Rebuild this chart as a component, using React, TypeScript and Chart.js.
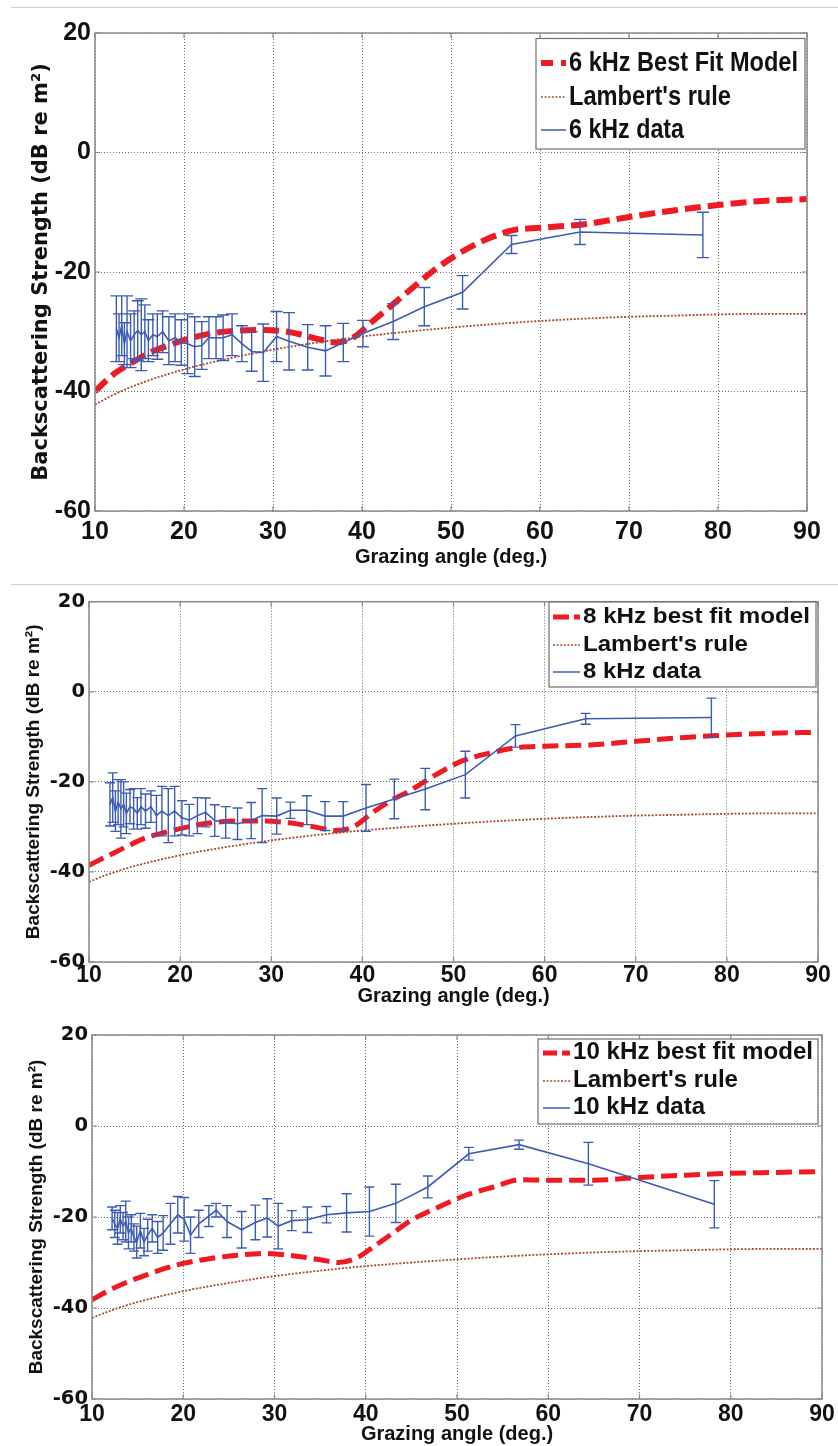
import React, { useEffect, useRef } from "react";
import { Chart, registerables } from "chart.js";

Chart.register(...registerables);

// ---------------- data ----------------
const xTickValues = [10, 20, 30, 40, 50, 60, 70, 80, 90];
const yTickValues = [-60, -40, -20, 0, 20];
const xAxisTitle = "Grazing angle (deg.)";
const yAxisTitle = "Backscattering Strength (dB re m²)";

const legend6kHz = ["6 kHz Best Fit Model", "Lambert's rule", "6 kHz data"];
const legend8kHz = ["8 kHz best fit model", "Lambert's rule", "8 kHz data"];
const legend10kHz = ["10 kHz best fit model", "Lambert's rule", "10 kHz data"];

// best fit model curves
const modelAngles = [10, 12, 14, 16, 18, 20, 23, 26, 29, 32, 35, 37, 39, 41, 43, 45, 48, 51, 54, 57, 60, 65, 70, 75, 80, 85, 90];
const model6kHz = [-40, -37.2, -35.3, -33.6, -32.4, -31.4, -30.3, -29.8, -29.7, -30.1, -31.2, -31.8, -31.0, -28.5, -26.0, -23.5, -19.8, -16.8, -14.5, -13.0, -12.6, -12.0, -10.8, -9.7, -8.8, -8.1, -7.8];
const model8kHz = [-38.5, -36.5, -34.5, -32.6, -31.4, -30.4, -29.2, -28.7, -28.7, -29.1, -30.1, -30.8, -30.0, -27.0, -24.3, -22.2, -18.5, -15.3, -13.6, -12.4, -12.1, -11.8, -11.0, -10.2, -9.6, -9.2, -9.0];
const model10kHz = [-38.2, -36.0, -34.2, -32.7, -31.3, -30.2, -29.1, -28.4, -28.0, -28.5, -29.4, -30.0, -29.0, -26.3, -23.5, -20.7, -17.8, -15.2, -13.4, -11.8, -11.9, -11.9, -11.3, -10.8, -10.4, -10.2, -10.0];

// Lambert's rule curve (same in every panel)
const lambertAngles = [10, 12, 15, 20, 25, 30, 35, 40, 45, 50, 55, 60, 65, 70, 75, 80, 85, 90];
const lambertRule = [-42.2, -40.6, -38.7, -36.3, -34.5, -33.0, -31.8, -30.8, -30.0, -29.3, -28.7, -28.2, -27.8, -27.5, -27.3, -27.1, -27.0, -27.0];

// measured data with error bars
const angles6kHz = [12.4, 12.7, 13.0, 13.3, 13.6, 14.0, 14.4, 14.8, 15.2, 15.6, 16.0, 16.5, 17.0, 17.6, 18.3, 19.0, 19.7, 20.4, 21.2, 22.0, 22.8, 23.6, 24.4, 25.4, 26.5, 27.6, 28.9, 30.4, 31.8, 33.9, 35.9, 37.9, 40.1, 43.5, 47.0, 51.3, 56.8, 64.5, 78.3];
const mean6kHz = [-29.5, -31.0, -29.0, -32.0, -30.0, -31.5, -30.5, -29.8, -30.5, -30.0, -31.5, -30.5, -30.8, -30.0, -31.5, -31.0, -31.8, -32.0, -32.5, -32.3, -31.0, -31.0, -31.0, -30.5, -32.0, -33.3, -33.5, -30.8, -31.6, -32.6, -33.2, -31.8, -30.3, -28.3, -25.8, -23.4, -15.4, -13.3, -13.8];
const err6kHz = [5.5, 4.0, 5.0, 3.5, 6.0, 4.5, 4.0, 5.0, 6.0, 4.5, 3.5, 3.5, 3.8, 3.5, 4.0, 4.0, 3.8, 5.0, 5.0, 4.0, 3.5, 3.5, 3.8, 3.5, 3.0, 3.3, 4.8, 4.2, 4.8, 3.8, 4.2, 3.2, 2.2, 3.0, 3.2, 2.8, 1.5, 2.1, 3.8];

const angles8kHz = [12.3, 12.6, 12.9, 13.2, 13.5, 13.8, 14.1, 14.5, 14.9, 15.3, 15.7, 16.2, 16.8, 17.4, 18.0, 18.7, 19.4, 20.2, 21.0, 21.9, 22.8, 23.8, 25.0, 26.3, 27.8, 29.0, 30.6, 32.1, 33.9, 35.9, 37.9, 40.4, 43.5, 46.9, 51.3, 56.8, 64.5, 78.3];
const mean8kHz = [-25.0, -23.5, -26.5, -24.5, -26.0, -25.0, -27.0, -25.5, -26.0, -27.0, -25.5, -26.5, -25.5, -27.5, -26.5, -27.5, -26.5, -28.0, -28.5, -27.5, -26.8, -28.6, -29.0, -29.3, -28.6, -27.5, -27.6, -26.3, -26.3, -27.6, -27.6, -25.8, -23.8, -21.6, -18.4, -9.8, -6.0, -5.7];
const err8kHz = [4.8, 5.5, 4.5, 5.0, 6.5, 5.0, 4.5, 3.8, 4.5, 3.5, 4.0, 3.8, 3.5, 4.5, 5.5, 6.0, 5.5, 3.8, 3.5, 4.0, 3.2, 3.5, 3.5, 3.5, 4.0, 6.0, 4.0, 1.8, 3.2, 3.2, 3.2, 5.2, 4.4, 4.6, 5.2, 2.5, 1.2, 4.3];

const angles10kHz = [12.2, 12.5, 12.8, 13.1, 13.4, 13.7, 14.0, 14.3, 14.6, 14.9, 15.3, 15.7, 16.1, 16.6, 17.2, 17.8, 18.6, 19.4, 20.1, 20.8, 21.7, 22.8, 23.6, 24.8, 26.4, 27.9, 29.2, 30.4, 31.9, 33.6, 35.7, 37.9, 40.4, 43.3, 46.8, 51.3, 56.8, 64.4, 78.2];
const mean10kHz = [-20.3, -21.5, -22.5, -20.5, -22.0, -21.0, -23.5, -22.5, -24.5, -25.5, -23.0, -25.5, -24.0, -22.5, -24.5, -23.5, -21.5, -19.5, -20.5, -24.0, -21.5, -19.8, -18.5, -21.0, -22.8, -21.2, -20.2, -22.0, -20.8, -20.6, -19.5, -19.1, -18.8, -17.0, -13.4, -6.1, -4.1, -8.3, -17.2];
const err10kHz = [2.5, 3.0, 3.5, 3.0, 3.0, 4.5, 3.5, 3.0, 3.0, 3.5, 3.8, 3.0, 3.5, 3.0, 3.5, 3.8, 4.5, 4.0, 4.8, 4.0, 3.0, 2.3, 1.5, 3.5, 4.0, 3.8, 4.2, 5.0, 2.2, 2.8, 1.8, 4.2, 5.4, 4.2, 2.4, 1.4, 1.0, 4.7, 5.2];

// ---------------- styles ----------------
const RED = "#f01a22";
const BROWN = "#a84a2a";
const BLUE = "#3c5cb4";
const GRID = "rgba(85,85,85,0.85)";
const AXIS = "#8a8a8a";
const TEXT = "#111111";
const ARIAL = '"Liberation Sans", Arial, sans-serif';
const DEJAVU = '"DejaVu Sans", Verdana, sans-serif';

type Panel = {
  canvasTop: number;
  height: number;
  plot: { left: number; right: number; top: number; bottom: number };
  yTickFont: { family: string; size: number };
  xTickFont: { family: string; size: number };
  yTitleFont: { family: string; size: number };
  xTitleSize: number;
  yTitlePad: number;
  xTitlePad: number;
  xTickPad: number;
  lineW: number;
  cap: number;
  legend: {
    box: [number, number, number, number];
    rows: number[];
    sample: [number, number];
    textX: number;
    fontSize: number;
    widths: number[];
    redDash: number[];
  };
  labels: string[];
  model: number[];
  angles: number[];
  mean: number[];
  err: number[];
};

const panels: Panel[] = [
  {
    canvasTop: 10,
    height: 575,
    plot: { left: 95, right: 807, top: 33, bottom: 511 },
    yTickFont: { family: ARIAL, size: 25 },
    xTickFont: { family: ARIAL, size: 25 },
    yTitleFont: { family: DEJAVU, size: 21 },
    xTitleSize: 20,
    yTitlePad: 28.5,
    xTitlePad: 16,
    xTickPad: 6,
    lineW: 6,
    cap: 6,
    legend: {
      box: [536, 38.5, 805, 149],
      rows: [63, 97, 130],
      sample: [541, 566],
      textX: 569,
      fontSize: 28,
      widths: [229, 162, 115],
      redDash: [12, 8],
    },
    labels: legend6kHz,
    model: model6kHz,
    angles: angles6kHz,
    mean: mean6kHz,
    err: err6kHz,
  },
  {
    canvasTop: 586,
    height: 426,
    plot: { left: 89, right: 818, top: 600, bottom: 962 },
    yTickFont: { family: DEJAVU, size: 19.5 },
    xTickFont: { family: ARIAL, size: 23 },
    yTitleFont: { family: ARIAL, size: 19 },
    xTitleSize: 20,
    yTitlePad: 22.6,
    xTitlePad: 3.3,
    xTickPad: 0,
    lineW: 5,
    cap: 5,
    legend: {
      box: [549, 602, 816, 687],
      rows: [617, 645, 672],
      sample: [553, 580],
      textX: 583,
      fontSize: 22,
      widths: [227, 165, 118],
      redDash: [16, 5],
    },
    labels: legend8kHz,
    model: model8kHz,
    angles: angles8kHz,
    mean: mean8kHz,
    err: err8kHz,
  },
  {
    canvasTop: 1012,
    height: 434,
    plot: { left: 92, right: 822, top: 1035, bottom: 1399 },
    yTickFont: { family: DEJAVU, size: 19.5 },
    xTickFont: { family: ARIAL, size: 23 },
    yTitleFont: { family: ARIAL, size: 19 },
    xTitleSize: 20,
    yTitlePad: 25,
    xTitlePad: 0,
    xTickPad: 2,
    lineW: 5,
    cap: 5,
    legend: {
      box: [538, 1039, 818, 1124],
      rows: [1053, 1081, 1108],
      sample: [543, 570],
      textX: 573,
      fontSize: 23,
      widths: [240, 165, 132],
      redDash: [14, 5],
    },
    labels: legend10kHz,
    model: model10kHz,
    angles: angles10kHz,
    mean: mean10kHz,
    err: err10kHz,
  },
];

function fitText(ctx: CanvasRenderingContext2D, text: string, x: number, y: number, font: string, width: number) {
  ctx.save();
  ctx.font = font;
  ctx.textBaseline = "middle";
  ctx.textAlign = "left";
  ctx.fillStyle = TEXT;
  const w = ctx.measureText(text).width || 1;
  ctx.translate(x, y);
  ctx.scale(width / w, 1);
  ctx.fillText(text, 0, 0);
  ctx.restore();
}

function PanelChart({ cfg }: { cfg: Panel }) {
  const ref = useRef<HTMLCanvasElement | null>(null);

  useEffect(() => {
    const canvas = ref.current;
    if (!canvas) return;
    const off = cfg.canvasTop;
    const plotBottomInCanvas = cfg.plot.bottom - off;

    const decor = {
      id: "matlabDecor",
      afterDatasetsDraw(chart: any) {
        const ctx: CanvasRenderingContext2D = chart.ctx;
        const xs = chart.scales.x;
        const ys = chart.scales.y;
        ctx.save();
        ctx.strokeStyle = BLUE;
        ctx.lineWidth = 1.4;
        ctx.setLineDash([]);
        ctx.beginPath();
        cfg.angles.forEach((a, i) => {
          const px = xs.getPixelForValue(a);
          const t = ys.getPixelForValue(cfg.mean[i] + cfg.err[i]);
          const b = ys.getPixelForValue(cfg.mean[i] - cfg.err[i]);
          ctx.moveTo(px, t);
          ctx.lineTo(px, b);
          ctx.moveTo(px - cfg.cap, t);
          ctx.lineTo(px + cfg.cap, t);
          ctx.moveTo(px - cfg.cap, b);
          ctx.lineTo(px + cfg.cap, b);
        });
        ctx.stroke();
        ctx.restore();
      },
      afterDraw(chart: any) {
        const ctx: CanvasRenderingContext2D = chart.ctx;
        const { left, right, top, bottom } = chart.chartArea;
        const xs = chart.scales.x;
        const ys = chart.scales.y;
        ctx.save();
        // axes box
        ctx.strokeStyle = AXIS;
        ctx.lineWidth = 1.5;
        ctx.setLineDash([]);
        ctx.strokeRect(left, top, right - left, bottom - top);
        // inward tick marks
        ctx.beginPath();
        xTickValues.forEach((v) => {
          const px = xs.getPixelForValue(v);
          ctx.moveTo(px, bottom);
          ctx.lineTo(px, bottom - 5);
          ctx.moveTo(px, top);
          ctx.lineTo(px, top + 5);
        });
        yTickValues.forEach((v) => {
          const py = ys.getPixelForValue(v);
          ctx.moveTo(left, py);
          ctx.lineTo(left + 5, py);
          ctx.moveTo(right, py);
          ctx.lineTo(right - 5, py);
        });
        ctx.lineWidth = 1.2;
        ctx.stroke();

        // legend
        const L = cfg.legend;
        const [bx0, by0, bx1, by1] = L.box;
        ctx.fillStyle = "#ffffff";
        ctx.fillRect(bx0, by0 - off, bx1 - bx0, by1 - by0);
        ctx.strokeStyle = "#6e6e6e";
        ctx.lineWidth = 1.2;
        ctx.strokeRect(bx0, by0 - off, bx1 - bx0, by1 - by0);

        const [s0, s1] = L.sample;
        // row 1: model
        ctx.beginPath();
        ctx.strokeStyle = RED;
        ctx.lineWidth = cfg.lineW;
        ctx.lineCap = "butt";
        ctx.setLineDash(L.redDash);
        ctx.moveTo(s0, L.rows[0] - off);
        ctx.lineTo(s1, L.rows[0] - off);
        ctx.stroke();
        // row 2: Lambert
        ctx.beginPath();
        ctx.strokeStyle = BROWN;
        ctx.lineWidth = 1.7;
        ctx.setLineDash([2, 1.6]);
        ctx.moveTo(s0, L.rows[1] - off);
        ctx.lineTo(s1, L.rows[1] - off);
        ctx.stroke();
        // row 3: data
        ctx.beginPath();
        ctx.strokeStyle = BLUE;
        ctx.lineWidth = 1.5;
        ctx.setLineDash([]);
        ctx.moveTo(s0, L.rows[2] - off);
        ctx.lineTo(s1, L.rows[2] - off);
        ctx.stroke();
        ctx.restore();

        const font = `bold ${L.fontSize}px ${ARIAL}`;
        cfg.labels.forEach((label, i) => {
          fitText(ctx, label, L.textX, L.rows[i] - off, font, L.widths[i]);
        });
      },
    };

    const chart = new Chart(canvas, {
      type: "line",
      data: {
        datasets: [
          {
            label: cfg.labels[2],
            data: cfg.angles.map((a, i) => ({ x: a, y: cfg.mean[i] })),
            borderColor: BLUE,
            borderWidth: 1.6,
            pointRadius: 0,
            tension: 0,
            order: 0,
          },
          {
            label: cfg.labels[1],
            data: lambertAngles.map((a, i) => ({ x: a, y: lambertRule[i] })),
            borderColor: BROWN,
            borderWidth: 1.8,
            borderDash: [2, 1.6],
            pointRadius: 0,
            cubicInterpolationMode: "monotone",
            order: 1,
          },
          {
            label: cfg.labels[0],
            data: modelAngles.map((a, i) => ({ x: a, y: cfg.model[i] })),
            borderColor: RED,
            borderWidth: cfg.lineW,
            borderDash: [16, 7],
            borderCapStyle: "butt",
            pointRadius: 0,
            cubicInterpolationMode: "monotone",
            order: 2,
          },
        ],
      } as any,
      options: {
        responsive: false,
        maintainAspectRatio: false,
        animation: false,
        events: [],
        layout: {
          padding: { top: cfg.plot.top - off, right: 838 - cfg.plot.right, left: 0, bottom: 0 },
        },
        plugins: {
          legend: { display: false },
          tooltip: { enabled: false },
        },
        scales: {
          x: {
            type: "linear",
            min: 10,
            max: 90,
            afterBuildTicks: (s: any) => {
              s.ticks = xTickValues.map((v) => ({ value: v }));
            },
            afterFit: (s: any) => {
              s.height = cfg.height - plotBottomInCanvas;
            },
            ticks: {
              color: TEXT,
              padding: cfg.xTickPad,
              maxRotation: 0,
              autoSkip: false,
              font: { family: cfg.xTickFont.family, size: cfg.xTickFont.size, weight: "bold" },
              callback: (v: any) => String(v),
            },
            grid: { color: GRID, lineWidth: 1, drawTicks: false },
            border: { display: false, dash: [1, 2] },
            title: {
              display: true,
              text: xAxisTitle,
              color: TEXT,
              font: { family: ARIAL, size: cfg.xTitleSize, weight: "bold" },
              padding: { top: 0, bottom: cfg.xTitlePad },
            },
          },
          y: {
            type: "linear",
            min: -60,
            max: 20,
            afterBuildTicks: (s: any) => {
              s.ticks = yTickValues.map((v) => ({ value: v }));
            },
            afterFit: (s: any) => {
              s.width = cfg.plot.left;
            },
            ticks: {
              color: TEXT,
              padding: 4,
              autoSkip: false,
              font: { family: cfg.yTickFont.family, size: cfg.yTickFont.size, weight: "bold" },
              callback: (v: any) => String(v),
            },
            grid: { color: GRID, lineWidth: 1, drawTicks: false },
            border: { display: false, dash: [1, 2] },
            title: {
              display: true,
              text: yAxisTitle,
              color: TEXT,
              font: { family: cfg.yTitleFont.family, size: cfg.yTitleFont.size, weight: "bold" },
              padding: { top: cfg.yTitlePad, bottom: 0 },
            },
          },
        },
      } as any,
      plugins: [decor],
    });

    return () => chart.destroy();
  }, [cfg]);

  return (
    <canvas
      ref={ref}
      width={838}
      height={cfg.height}
      style={{ position: "absolute", left: 0, top: cfg.canvasTop, width: 838, height: cfg.height, display: "block" }}
    />
  );
}

export default function App() {
  return (
    <div
      style={{
        position: "absolute",
        left: 0,
        top: 0,
        width: 838,
        height: 1446,
        background: "#ffffff",
        overflow: "hidden",
      }}
    >
      <div style={{ position: "absolute", left: 11, top: 7, width: 827, height: 1, background: "#cfcfcf" }} />
      <div style={{ position: "absolute", left: 11, top: 584, width: 827, height: 1, background: "#cfcfcf" }} />
      {panels.map((p, i) => (
        <PanelChart key={i} cfg={p} />
      ))}
    </div>
  );
}
